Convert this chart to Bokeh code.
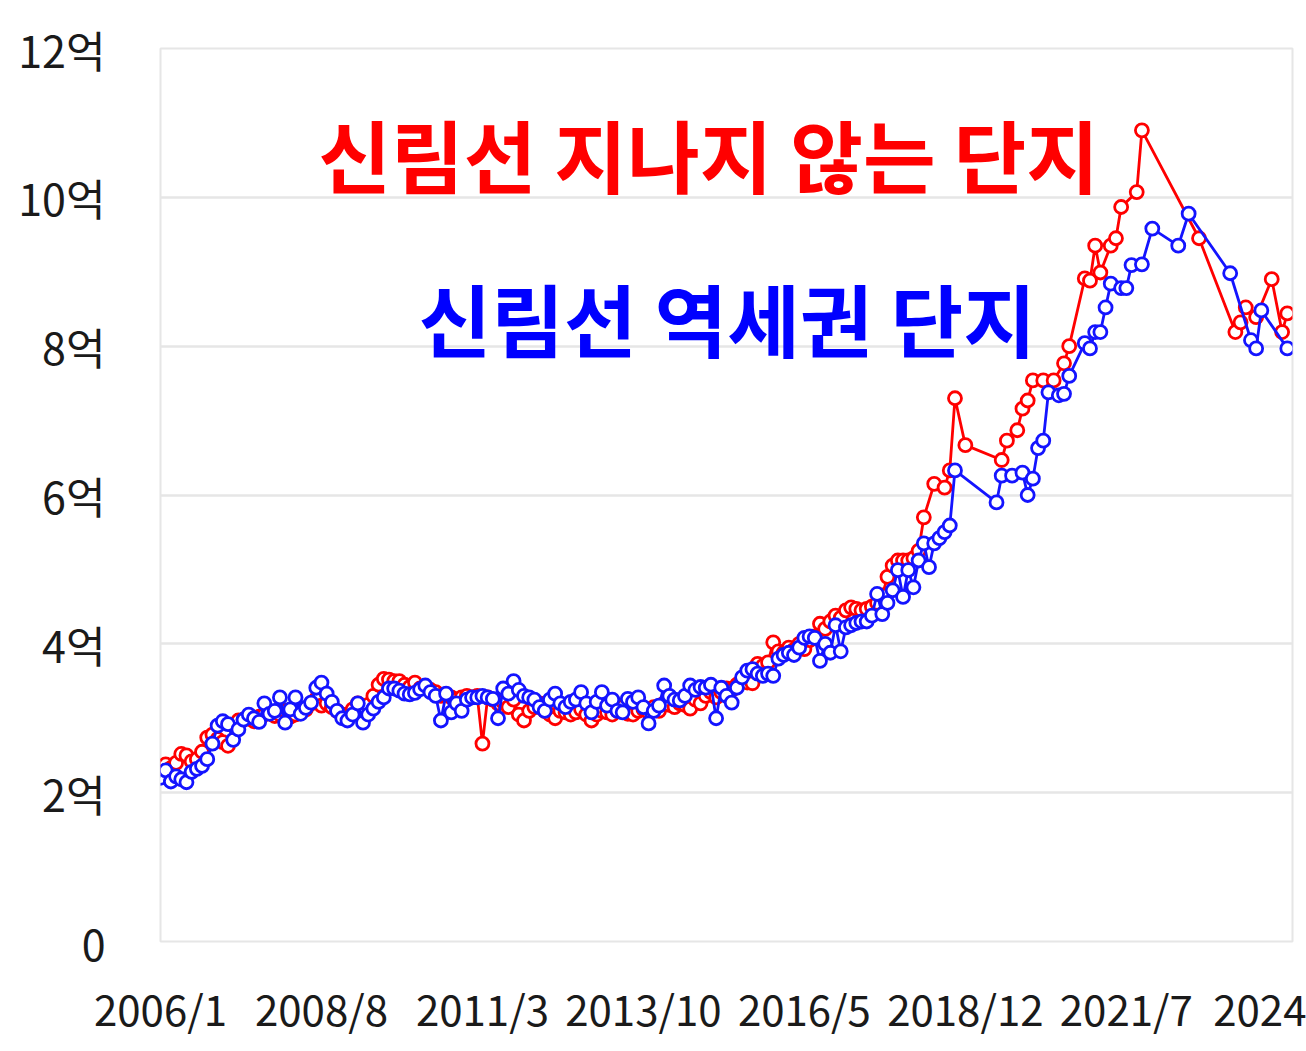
from bokeh.plotting import figure
from bokeh.models import Range1d, FixedTicker, Label, ColumnDataSource
from bokeh.embed import file_html
from bokeh.resources import INLINE

# month index 0 = 2006/1
TICK_MONTHS = [0, 31, 62, 93, 124, 155, 186, 217]
TICK_LABELS = ["2006/1", "2008/8", "2011/3", "2013/10", "2016/5", "2018/12", "2021/7", "2024"]
Y_TICKS = [0, 2, 4, 6, 8, 10, 12]
Y_LABELS = ["0", "2억", "4억", "6억", "8억", "10억", "12억"]

SERIES_RED_NAME = "신림선 지나지 않는 단지"
SERIES_BLUE_NAME = "신림선 역세권 단지"

N = None
# 신림선 지나지 않는 단지 (억), monthly from 2006/1
RED = [
    2.35, 2.38, 2.33, 2.40, 2.52, 2.50, 2.42, 2.45, 2.55, 2.74,
    2.78, 2.72, 2.68, 2.63, 2.90, 2.97, 2.98, 3.00, 2.96, 3.02,
    3.05, 3.08, 3.03, 3.05, 3.10, 3.02, 3.05, 3.08, 3.12, 3.20,
    3.26, 3.17, 3.20, 3.15, 3.10, 3.05, 3.05, 3.12, 3.20, 3.15,
    3.18, 3.30, 3.45, 3.53, 3.52, 3.50, 3.50, 3.45, 3.42, 3.48,
    3.40, 3.42, 3.38, 3.35, 3.30, 3.32, 3.28, 3.25, 3.28, 3.30,
    3.28, 3.30, 2.66, 3.28, 3.25, 3.20, 3.22, 3.15, 3.25, 3.05,
    2.97, 3.10, 3.15, 3.20, 3.10, 3.05, 3.00, 3.10, 3.08, 3.05,
    3.08, 3.12, 3.05, 2.97, 3.05, 3.10, 3.08, 3.05, 3.10, 3.15,
    3.06, 3.05, 3.10, 3.12, 3.08, 3.15, 3.10, 3.20, 3.18, 3.15,
    3.20, 3.18, 3.13, 3.25, 3.20, 3.30, 3.35, 3.28, 3.35, 3.40,
    3.38, 3.45, 3.50, 3.48, 3.47, 3.73, 3.70, 3.75, 4.02, 3.90,
    3.88, 3.95, 3.92, 4.00, 3.93, 4.05, 4.10, 4.27, 4.20, 4.30,
    4.38, 4.35, 4.45, 4.49, 4.47, 4.45, 4.47, 4.50, 4.55, 4.65,
    4.90, 5.05, 5.12, 5.12, 5.12, 5.15, 5.25, 5.70, N, 6.15,
    N, 6.10, 6.33, 7.30, N, 6.67, N, N, N, N,
    N, N, 6.47, 6.73, N, 6.87, 7.16, 7.27, 7.54, N,
    7.54, N, 7.54, N, 7.77, 8.00, N, N, 8.91, 8.88,
    9.35, 8.99, N, 9.35, 9.45, 9.87, N, N, 10.07, 10.90,
    N, N, N, N, N, N, N, N, N, N,
    9.45, N, N, N, N, N, N, 8.19, 8.32, 8.52,
    N, 8.39, N, N, 8.90, N, 8.19, 8.44,
]
# 신림선 역세권 단지 (억), monthly from 2006/1
BLUE = [
    2.20, 2.30, 2.15, 2.22, 2.18, 2.14, 2.28, 2.32, 2.36, 2.45,
    2.66, 2.90, 2.96, 2.92, 2.71, 2.85, 2.98, 3.05, 3.00, 2.95,
    3.20, 3.06, 3.10, 3.28, 2.94, 3.12, 3.28, 3.06, 3.14, 3.21,
    3.41, 3.48, 3.33, 3.22, 3.10, 3.00, 2.97, 3.05, 3.20, 2.94,
    3.05, 3.13, 3.22, 3.28, 3.40, 3.40, 3.37, 3.33, 3.32, 3.34,
    3.39, 3.44, 3.35, 3.30, 2.97, 3.33, 3.08, 3.20, 3.10, 3.25,
    3.28, 3.28, 3.30, 3.28, 3.26, 3.00, 3.40, 3.33, 3.50, 3.38,
    3.30, 3.28, 3.25, 3.15, 3.10, 3.25, 3.33, 3.20, 3.15, 3.22,
    3.25, 3.35, 3.20, 3.08, 3.22, 3.35, 3.17, 3.25, 3.10, 3.08,
    3.26, 3.22, 3.28, 3.15, 2.93, 3.10, 3.17, 3.44, 3.30, 3.25,
    3.24, 3.30, 3.44, 3.38, 3.42, 3.41, 3.45, 3.00, 3.41, 3.30,
    3.21, 3.41, 3.55, 3.64, 3.66, 3.60, 3.57, 3.60, 3.57, 3.80,
    3.85, 3.88, 3.85, 3.95, 4.08, 4.10, 4.08, 3.77, 4.00, 3.88,
    4.25, 3.90, 4.22, 4.25, 4.28, 4.30, 4.30, 4.38, 4.67, 4.40,
    4.55, 4.72, 4.99, 4.63, 4.99, 4.76, 5.12, 5.35, 5.03, 5.35,
    5.42, 5.50, 5.59, 6.33, N, N, N, N, N, N,
    N, 5.90, 6.26, N, 6.26, N, 6.30, 6.00, 6.22, 6.63,
    6.73, 7.38, N, 7.34, 7.36, 7.60, N, N, 8.04, 7.97,
    8.19, 8.19, 8.52, 8.84, N, 8.78, 8.78, 9.09, N, 9.10,
    N, 9.58, N, N, N, N, 9.35, N, 9.78, N,
    N, N, N, N, N, N, 8.98, N, N, N,
    8.08, 7.97, 8.48, N, N, N, N, 7.97,
]

RED_COLOR = "#FF0000"
BLUE_COLOR = "#1414FF"
FONT = "Noto Sans CJK KR"


def present(vals):
    xs = [i for i, v in enumerate(vals) if v is not None]
    ys = [v for v in vals if v is not None]
    return ColumnDataSource(data=dict(x=xs, y=ys))


p = figure(width=1306, height=1051, output_backend="svg", toolbar_location=None,
           x_range=Range1d(0, 218), y_range=Range1d(0, 12),
           min_border_left=160, min_border_right=14, min_border_top=48, min_border_bottom=110)
p.background_fill_color = "white"
p.border_fill_color = "white"
p.outline_line_color = "#E6E6E6"
p.outline_line_width = 2

p.xgrid.grid_line_color = None
p.ygrid.grid_line_color = "#E6E6E6"
p.ygrid.grid_line_width = 2.5
p.ygrid.ticker = FixedTicker(ticks=Y_TICKS)

p.xaxis.ticker = FixedTicker(ticks=TICK_MONTHS)
p.xaxis.major_label_overrides = {t: l for t, l in zip(TICK_MONTHS, TICK_LABELS)}
p.yaxis.ticker = FixedTicker(ticks=Y_TICKS)
p.yaxis.major_label_overrides = {t: l for t, l in zip(Y_TICKS, Y_LABELS)}

for ax in (p.xaxis[0], p.yaxis[0]):
    ax.axis_line_color = None
    ax.major_tick_line_color = None
    ax.minor_tick_line_color = None
    ax.major_tick_out = 0
    ax.major_tick_in = 0
    ax.major_label_text_font = FONT
    ax.major_label_text_color = "#1a1a1a"
p.xaxis.major_label_text_font_size = "42px"
p.xaxis.major_label_standoff = 35
p.yaxis.major_label_text_font_size = "43px"
p.yaxis.major_label_standoff = 55

red_src = present(RED)
blue_src = present(BLUE)

p.line("x", "y", source=red_src, line_color=RED_COLOR, line_width=2.8)
p.scatter("x", "y", source=red_src, marker="circle", size=13, line_color=RED_COLOR,
          line_width=2.8, fill_color="white")
p.line("x", "y", source=blue_src, line_color=BLUE_COLOR, line_width=2.8)
p.scatter("x", "y", source=blue_src, marker="circle", size=13, line_color=BLUE_COLOR,
          line_width=2.8, fill_color="white")

p.add_layout(Label(x=30.4, y=10.59, x_units="data", y_units="data", text=SERIES_RED_NAME,
                   text_font=FONT, text_font_style="bold", text_font_size="79px",
                   text_color="#FF0000", text_align="left", text_baseline="middle"))
p.add_layout(Label(x=49.7, y=8.39, x_units="data", y_units="data", text=SERIES_BLUE_NAME,
                   text_font=FONT, text_font_style="bold", text_font_size="79px",
                   text_color="#0000FF", text_align="left", text_baseline="middle"))

open("out.html", "w").write(file_html(p, INLINE))
